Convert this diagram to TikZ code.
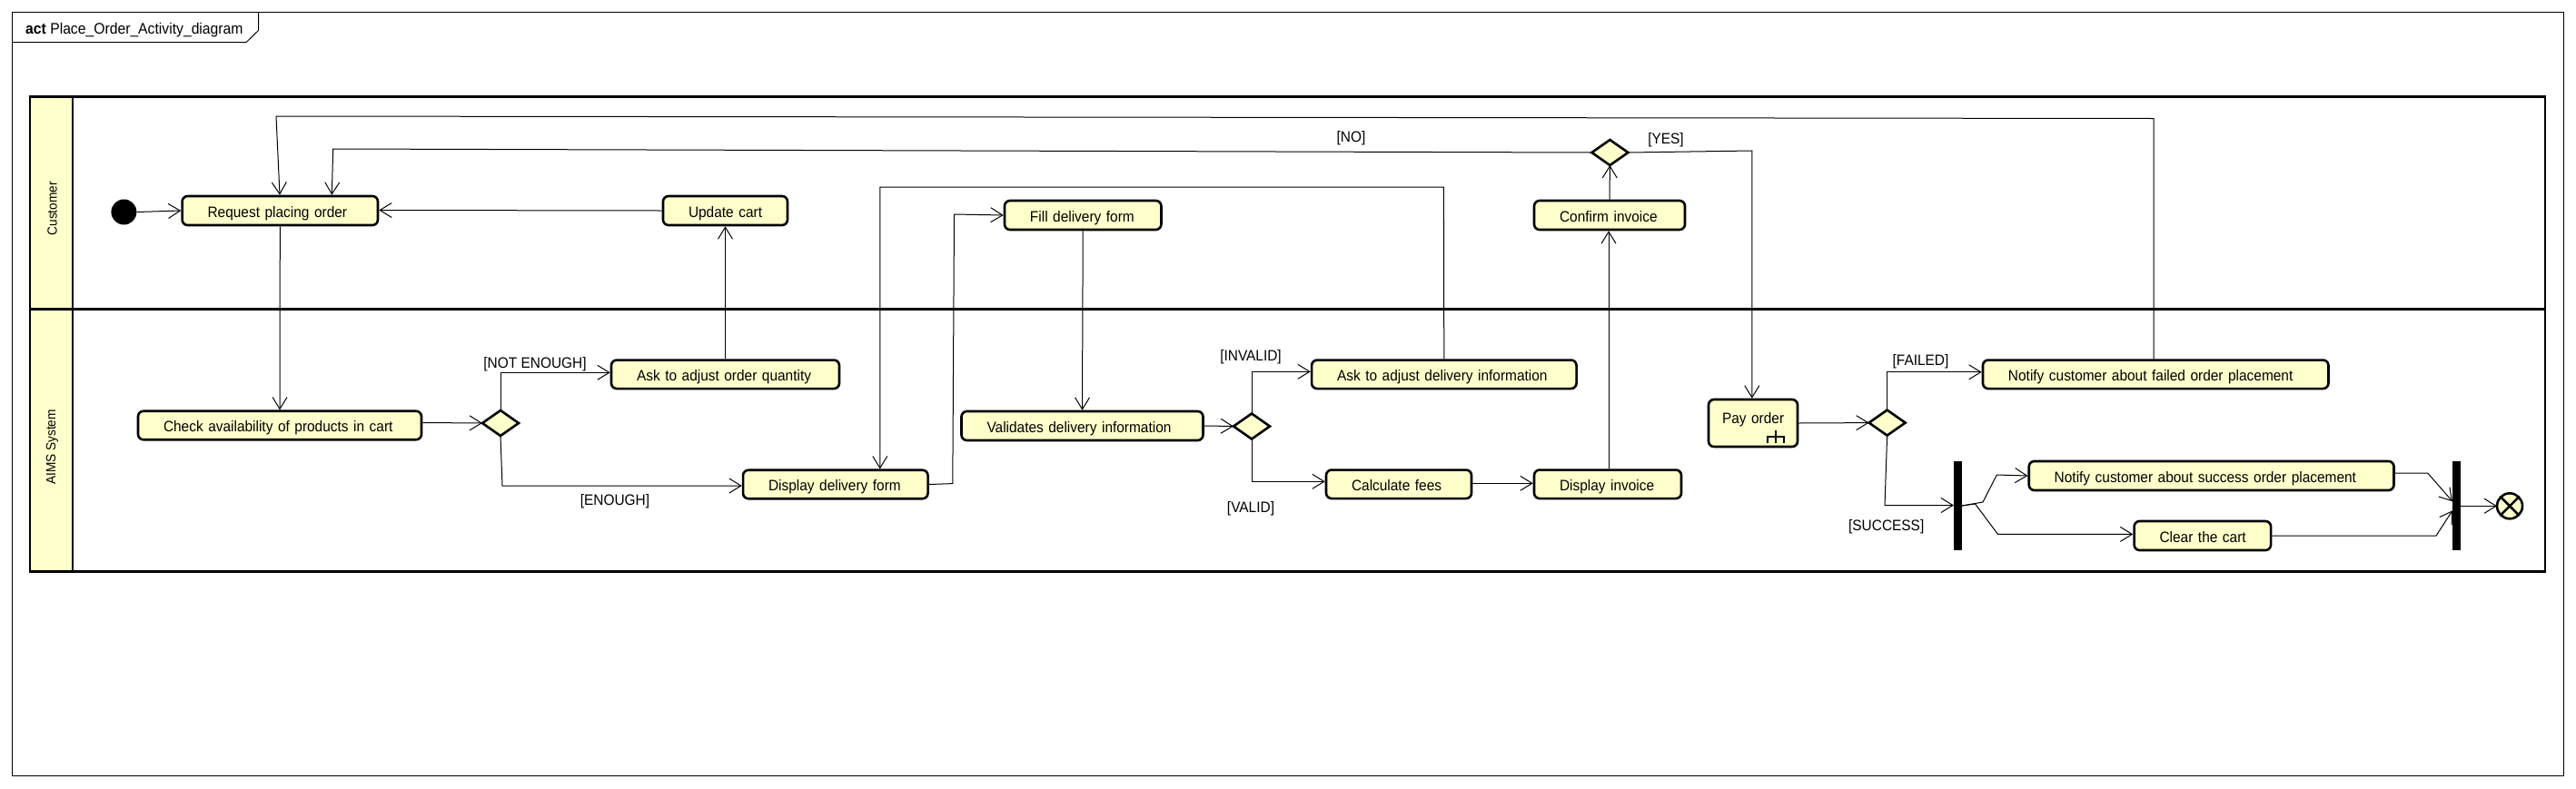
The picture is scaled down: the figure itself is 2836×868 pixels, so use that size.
\documentclass[tikz,border=0pt]{standalone}
\usepackage{fontspec}
\setmainfont[FakeStretch=0.93]{Liberation Sans}
\usetikzlibrary{arrows.meta,positioning,shapes.geometric}
\definecolor{actfill}{HTML}{FFFFCC}
\tikzset{
  action/.style 2 args={
    draw=black, fill=actfill, line width=2.6pt, rounded corners=6pt, align=left,
    inner xsep=28pt, inner ysep=0pt, text width=#1-56pt, minimum height=#2,
    text height=14pt, text depth=0pt,
    font=\fontsize{16.6}{18}\selectfont
  },
  decision/.style={
    diamond, draw=black, fill=actfill, line width=2.6pt, inner sep=0pt,
    minimum width=40pt, minimum height=28pt, outer sep=0pt
  },
  bar/.style={rectangle, fill=black, inner sep=0pt, minimum width=9pt, minimum height=98pt, outer sep=0pt},
  guard/.style={inner sep=0pt, yshift=-1.5pt, font=\fontsize{16.6}{18}\selectfont},
  lane/.style={inner sep=0pt, rotate=90, font=\fontsize{14.7}{16}\selectfont},
  flow/.style={-{Straight Barb[length=13pt,width=16pt]}, line width=1pt}
}

\begin{document}
\begin{tikzpicture}[x=1pt,y=-1pt]
\useasboundingbox (0,0) rectangle (2836,868);

%% frame
\draw[line width=1pt] (13.3,13.3) rectangle (2822,854);
\draw[line width=1pt] (13.3,46.7) -- (271,46.7) -- (284.7,33.3) -- (284.7,13.3);
\node[inner sep=0pt,anchor=base west,font=\fontsize{16.9}{18}\selectfont] (Title) at (28,37.3) {\textbf{act} Place\_Order\_Activity\_diagram};

%% partitions
\fill[actfill] (33,106.5) rectangle (80,629.5);
\draw[line width=2.6pt] (33,106.5) rectangle (2802,629.5);
\draw[line width=2.6pt] (80,106.5) -- (80,629.5);
\draw[line width=2.6pt] (33,340.5) -- (2802,340.5);
\node[lane] (Customer) at (57.6,229.7) {Customer};
\node[lane] (AIMS) at (57.6,492.5) {AIMS System};

%% customer
\node[circle,fill=black,inner sep=0pt,minimum size=28pt] (Start) at (136.4,233.5) {};
\node[action={215.4pt}{32pt}] (Request) at (308.3,232) {Request placing order};
\node[action={137pt}{32pt}] (Update) at (798.5,232) {\mbox{Update cart}};
\node[action={172.5pt}{32pt}] (Fill) at (1192.2,237) {Fill delivery form};
\node[action={166pt}{32pt}] (Confirm) at (1772,237) {Confirm invoice};
\node[decision] (DecYes) at (1772.4,168) {};

%% system
\node[action={312pt}{31.5pt}] (Check) at (308,468.5) {Check availability of products in cart};
\node[decision] (DecQty) at (551,466) {};
\node[action={251pt}{31.5pt}] (AskQty) at (798.5,412.3) {Ask to adjust order quantity};
\node[action={203.5pt}{31.5pt}] (ShowForm) at (919.8,533.5) {Display delivery form};
\node[action={266pt}{32pt}] (Validate) at (1191.5,469) {Validates delivery information};
\node[decision] (DecInfo) at (1378,469.5) {};
\node[action={291.5pt}{31.5pt}] (AskInfo) at (1589.8,412.3) {Ask to adjust delivery information};
\node[action={160pt}{31.5pt}] (Fees) at (1540,533.3) {Calculate fees};
\node[action={162pt}{31.5pt}] (ShowInv) at (1770,533.3) {Display invoice};
\node[action={98pt}{52pt},inner xsep=15pt,text width=68pt] (Pay) at (1930,466) {\raisebox{7pt}{Pay order}};
\node[decision] (DecPay) at (2077.6,465.6) {};
\node[action={380.5pt}{31.5pt}] (NotifyFail) at (2373.2,412.3) {Notify customer about failed order placement};
\node[bar] (ForkA) at (2155.4,557) {};
\node[action={401.8pt}{32pt}] (NotifyOk) at (2434.6,524) {Notify customer about success order placement};
\node[action={150.5pt}{32pt}] (Clear) at (2424.8,590) {\mbox{Clear the cart}};
\node[bar] (ForkB) at (2704.5,557.3) {};
\node[circle,draw=black,fill=actfill,line width=2.6pt,inner sep=0pt,minimum size=28pt,outer sep=0pt] (Final) at (2763,557.3) {};
\draw[line width=2.6pt] (Final.45) -- (Final.225);
\draw[line width=2.6pt] (Final.135) -- (Final.315);

%% rake of the called activity
\draw[line width=2pt] (1946,488.3) -- (1946,480.7) -- (1964,480.7) -- (1964,488.3);
\draw[line width=2pt] (1955,474.3) -- (1955,488.3);

%% guards
\node[guard] (GNot) at (589,399.6) {[NOT ENOUGH]};
\node[guard] (GEnough) at (677,551) {[ENOUGH]};
\node[guard] (GInvalid) at (1377,392) {[INVALID]};
\node[guard] (GValid) at (1377,558.6) {[VALID]};
\node[guard] (GNo) at (1487.5,151) {[NO]};
\node[guard] (GYes) at (1834,153) {[YES]};
\node[guard] (GFailed) at (2114.5,396.5) {[FAILED]};
\node[guard] (GSuccess) at (2076.7,578.6) {[SUCCESS]};

%% flows
\coordinate (C1) at (2371,130.5);
\coordinate (C2) at (304,128);
\coordinate (C3) at (366.7,164);
\coordinate (C4) at (1928.8,166);
\coordinate (C5) at (553,535);
\coordinate (C6) at (1048.8,532.6);
\coordinate (C7) at (1050.5,236);
\coordinate (C8) at (1589.4,206);
\coordinate (C9) at (968.8,206);
\coordinate (C10) at (2075,556.5);
\coordinate (C11) at (2183,553);
\coordinate (C12) at (2198.3,523);
\coordinate (C13) at (2174.5,555);
\coordinate (C14) at (2199.5,588.4);
\coordinate (C15) at (2672.7,521);
\coordinate (C16) at (2682,590);

\draw[flow] (Start.east) -- (Request.west);
\draw[flow] (Update.west) -- ([yshift=0.5pt]Request.east);
\draw[flow] (Request.south) -- (Check.north);
\draw[flow] (AskQty.north) -- (Update.south);
\draw[flow] ([yshift=3pt]Check.east) -- (DecQty.west);
\draw[flow] (DecQty.north) |- ([yshift=2pt]AskQty.west);
\draw[flow] (DecQty.south) -- (C5) -- (C5 -| ShowForm.west);
\draw[flow] (ShowForm.east) -- (C6) -- (C7) -- (Fill.west);
\draw[flow] (Fill.south) -- (Validate.north);
\draw[flow] (Validate.east) -- (DecInfo.west);
\draw[flow] (DecInfo.north) |- ([yshift=3pt]AskInfo.west);
\draw[flow] (DecInfo.south) |- ([yshift=3pt]Fees.west);
\draw[flow] (AskInfo.north) -- (C8) -- (C9) -- (ShowForm.north -| C9);
\draw[flow] ([yshift=1pt]Fees.east) -- ([yshift=1pt]ShowInv.west);
\draw[flow] ([xshift=1pt]ShowInv.north) -- ([xshift=-1pt]Confirm.south);
\draw[flow] (Confirm.north) -- (DecYes.south);
\draw[flow] (DecYes.west) -- (C3) -- ([xshift=57pt]Request.north);
\draw[flow] (DecYes.east) -- (C4) -- (Pay.north -| C4);
\draw[flow] (Pay.east) -- (DecPay.west);
\draw[flow] (DecPay.north) |- ([yshift=2.5pt]NotifyFail.west);
\draw[flow] (DecPay.south) -- (C10) -- (C10 -| ForkA.west);
\draw[flow] (NotifyFail.north -| C1) -- (C1) -- (C2) -- ([xshift=-0.3pt]Request.north);
\draw[flow] (ForkA.east) -- (C11) -- (C12) -- (NotifyOk.west);
\draw[flow] (ForkA.east) -- (C13) -- (C14) -- (C14 -| Clear.west);
\draw[flow] (NotifyOk.east |- C15) -- (C15) -- ([yshift=5pt]ForkB.west);
\draw[flow] (Clear.east |- C16) -- (C16) -- ([yshift=-5pt]ForkB.west);
\draw[flow] (ForkB.east) -- (Final.west);

\end{tikzpicture}
\end{document}
